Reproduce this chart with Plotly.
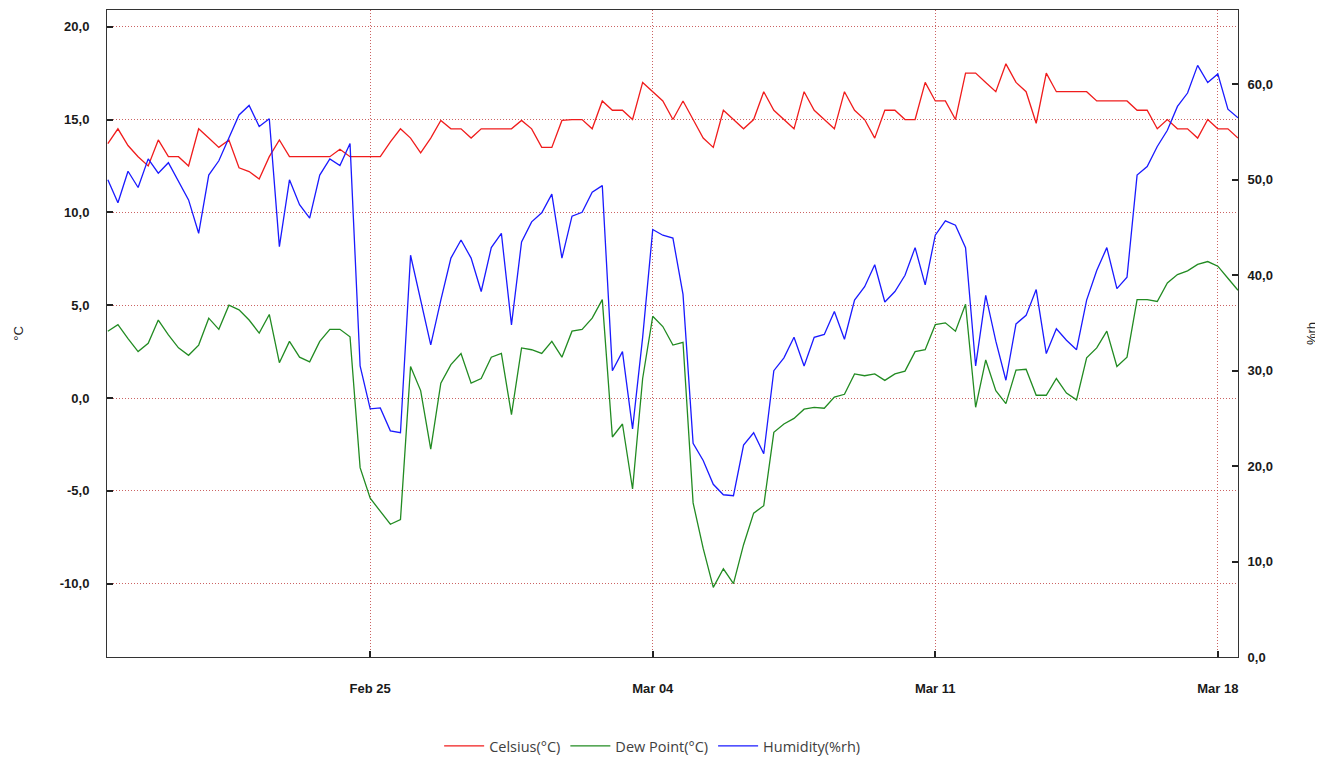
import pandas as pd
import plotly.graph_objects as go

# ---- data (6-hourly readings, Feb 18 12:00 -> Mar 18 12:00) ----
start_time = "2019-02-18 12:00"
step = "6h"

celsius = [
    13.7, 14.5, 13.6, 13.0, 12.5, 13.9, 13.0, 13.0, 12.5, 14.5,
    14.0, 13.5, 13.9, 12.4, 12.2, 11.8, 13.0, 13.9, 13.0, 13.0,
    13.0, 13.0, 13.0, 13.4, 13.0, 13.0, 13.0, 13.0, 13.8, 14.5,
    14.0, 13.2, 14.0, 14.95, 14.5, 14.5, 14.0, 14.5, 14.5, 14.5,
    14.5, 14.95, 14.5, 13.5, 13.5, 14.95, 15.0, 15.0, 14.5, 16.0,
    15.5, 15.5, 15.0, 17.0, 16.5, 16.0, 15.0, 16.0, 15.0, 14.0,
    13.5, 15.5, 15.0, 14.5, 15.0, 16.5, 15.5, 15.0, 14.5, 16.5,
    15.5, 15.0, 14.5, 16.5, 15.5, 15.0, 14.0, 15.5, 15.5, 15.0,
    15.0, 17.0, 16.0, 16.0, 15.0, 17.5, 17.5, 17.0, 16.5, 18.0,
    17.0, 16.5, 14.8, 17.5, 16.5, 16.5, 16.5, 16.5, 16.0, 16.0,
    16.0, 16.0, 15.5, 15.5, 14.5, 15.0, 14.5, 14.5, 14.0, 15.0,
    14.5, 14.5, 14.0,
]

dew_point = [
    3.6, 3.95, 3.2, 2.5, 2.95, 4.2, 3.4, 2.7, 2.3, 2.85,
    4.3, 3.7, 5.0, 4.75, 4.2, 3.5, 4.5, 1.9, 3.05, 2.2,
    1.95, 3.05, 3.7, 3.7, 3.3, -3.75, -5.4, -6.1, -6.8, -6.55,
    1.7, 0.4, -2.75, 0.8, 1.8, 2.4, 0.8, 1.05, 2.2, 2.4,
    -0.9, 2.7, 2.6, 2.4, 3.05, 2.2, 3.6, 3.7, 4.3, 5.3,
    -2.1, -1.4, -4.9, 1.05, 4.4, 3.85, 2.85, 3.0, -5.65, -8.1,
    -10.2, -9.2, -10.0, -7.9, -6.2, -5.8, -1.85, -1.4, -1.1, -0.6,
    -0.5, -0.55, 0.05, 0.2, 1.3, 1.2, 1.3, 0.95, 1.3, 1.45,
    2.5, 2.6, 3.95, 4.05, 3.6, 5.05, -0.5, 2.05, 0.4, -0.3,
    1.5, 1.55, 0.15, 0.15, 1.05, 0.27, -0.1, 2.17, 2.7, 3.6,
    1.7, 2.2, 5.3, 5.3, 5.2, 6.2, 6.65, 6.85, 7.2, 7.35,
    7.1, 6.45, 5.8,
]

humidity = [
    50.0, 47.6, 50.9, 49.2, 52.2, 50.7, 51.8, 49.8, 47.9, 44.4,
    50.5, 52.0, 54.4, 56.8, 57.8, 55.6, 56.4, 43.0, 50.0, 47.4,
    46.0, 50.5, 52.2, 51.5, 53.8, 30.5, 26.0, 26.1, 23.7, 23.5,
    42.1, 37.4, 32.7, 37.4, 41.8, 43.7, 41.8, 38.3, 42.9, 44.4,
    34.8, 43.5, 45.6, 46.55, 48.5, 41.8, 46.2, 46.6, 48.7, 49.4,
    30.0, 32.0, 23.9, 33.5, 44.8, 44.2, 43.9, 38.0, 22.4, 20.6,
    18.1, 17.0, 16.9, 22.2, 23.5, 21.3, 30.0, 31.35, 33.5, 30.5,
    33.5, 33.8, 36.2, 33.3, 37.4, 38.8, 41.1, 37.2, 38.3, 40.0,
    42.9, 39.0, 44.2, 45.7, 45.25, 42.9, 30.5, 37.9, 33.1, 29.0,
    34.9, 35.8, 38.5, 31.8, 34.4, 33.2, 32.2, 37.4, 40.5, 42.9,
    38.6, 39.8, 50.5, 51.4, 53.5, 55.2, 57.7, 59.1, 62.0, 60.2,
    61.1, 57.4, 56.5,
]

x_tick_dates = ["2019-02-25", "2019-03-04", "2019-03-11", "2019-03-18"]
x_tick_labels = ["Feb 25", "Mar 04", "Mar 11", "Mar 18"]

temp_tick_vals = [-10, -5, 0, 5, 10, 15, 20]
temp_tick_labels = ["-10,0", "-5,0", "0,0", "5,0", "10,0", "15,0", "20,0"]

rh_tick_vals = [0, 10, 20, 30, 40, 50, 60]
rh_tick_labels = ["0,0", "10,0", "20,0", "30,0", "40,0", "50,0", "60,0"]

times = pd.date_range(start_time, periods=len(celsius), freq=step)

# ---- figure ----
grid_color = "rgba(190,60,60,0.8)"
grid_dash = "1px,2px"
tick_font = dict(family="Liberation Sans, Arial, sans-serif", size=13,
                 color="#1a1a1a", weight="bold")
title_font = dict(family="Liberation Sans, Arial, sans-serif", size=13,
                  color="#222")

fig = go.Figure()
fig.add_trace(go.Scatter(x=times, y=celsius, name="Celsius(°C)", mode="lines",
                         line=dict(color="#f01c1c", width=1.3), yaxis="y"))
fig.add_trace(go.Scatter(x=times, y=dew_point, name="Dew Point(°C)", mode="lines",
                         line=dict(color="#228b22", width=1.3), yaxis="y"))
fig.add_trace(go.Scatter(x=times, y=humidity, name="Humidity(%rh)", mode="lines",
                         line=dict(color="#1a1aff", width=1.3), yaxis="y2"))

# the page body adds an 8px offset, so the figure is sized to fit the window
fig.update_layout(
    width=1315, height=751, autosize=False,
    margin=dict(l=99, r=85, t=2, b=102, autoexpand=False),
    paper_bgcolor="white", plot_bgcolor="white",
    showlegend=True,
    legend=dict(orientation="h", x=0.482, xanchor="center", y=-0.1376,
                yanchor="middle", itemwidth=40,
                font=dict(family="Open Sans, Noto Sans, sans-serif", size=14.5,
                          color="#404040")),
    xaxis=dict(
        type="date", automargin=False,
        range=["2019-02-18 11:30", "2019-03-18 12:00"],
        tickmode="array", tickvals=x_tick_dates, ticktext=x_tick_labels,
        showgrid=True, gridcolor=grid_color, griddash=grid_dash, gridwidth=1,
        ticks="inside", ticklen=6, tickcolor="#222", tickwidth=2,
        showline=True, linecolor="#333", linewidth=1, mirror=True,
        tickfont=tick_font, ticklabelstandoff=19,
        zeroline=False,
    ),
    yaxis=dict(
        automargin=False,
        range=[-13.95, 20.9],
        tickmode="array", tickvals=temp_tick_vals, ticktext=temp_tick_labels,
        showgrid=True, gridcolor=grid_color, griddash=grid_dash, gridwidth=1,
        zeroline=False,
        ticks="inside", ticklen=6, tickcolor="#222", tickwidth=2,
        showline=True, linecolor="#333", linewidth=1, mirror=True,
        tickfont=tick_font, ticklabelstandoff=14,
        title=dict(text="°C", standoff=33, font=title_font),
    ),
    yaxis2=dict(
        automargin=False,
        overlaying="y", side="right",
        range=[0, 67.8],
        tickmode="array", tickvals=rh_tick_vals, ticktext=rh_tick_labels,
        showgrid=False, zeroline=False,
        ticks="inside", ticklen=6, tickcolor="#222", tickwidth=2,
        showline=True, linecolor="#333", linewidth=1,
        tickfont=tick_font, ticklabelstandoff=6,
        title=dict(text="%rh", standoff=34, font=title_font),
    ),
)

fig.write_html("out.html")
